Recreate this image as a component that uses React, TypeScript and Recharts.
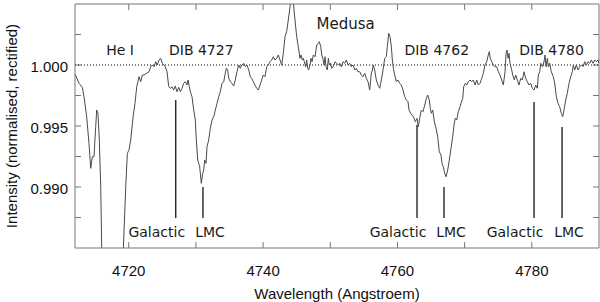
import { LineChart, Line, XAxis, YAxis, ReferenceLine, ReferenceDot } from "recharts";

// spectrum (Angstroem, rectified intensity)
const wavelength = [
  4712.0, 4712.6, 4713.09, 4713.34, 4713.74, 4714.08, 4714.34, 4714.58, 4714.83, 4715.08,
  4715.23, 4715.42, 4715.62, 4715.83, 4715.98, 4716.6, 4717.6, 4718.6, 4719.19, 4719.55,
  4719.79, 4720.04, 4720.29, 4720.68, 4720.93, 4721.19, 4721.53, 4721.78, 4722.02, 4722.27,
  4722.67, 4723.02, 4723.27, 4723.51, 4723.76, 4724.01, 4724.25, 4724.5, 4724.76, 4725.0,
  4725.25, 4725.44, 4725.7, 4725.95, 4726.19, 4726.44, 4726.69, 4726.93, 4727.18, 4727.44,
  4727.68, 4727.93, 4728.18, 4728.42, 4728.67, 4728.82, 4729.02, 4729.17, 4729.42, 4729.67,
  4729.91, 4730.06, 4730.27, 4730.41, 4730.56, 4730.8, 4731.01, 4731.16, 4731.31, 4731.5,
  4731.65, 4731.9, 4732.14, 4732.4, 4732.65, 4732.89, 4733.14, 4733.39, 4733.63, 4733.88,
  4734.14, 4734.37, 4734.52, 4734.73, 4734.88, 4735.12, 4735.37, 4735.62, 4735.86, 4736.11,
  4736.37, 4736.61, 4736.86, 4737.11, 4737.35, 4737.6, 4737.86, 4738.1, 4738.3, 4738.54,
  4738.79, 4739.05, 4739.29, 4739.54, 4739.79, 4740.03, 4740.28, 4740.54, 4740.78, 4741.03,
  4741.28, 4741.52, 4741.77, 4742.03, 4742.26, 4742.52, 4742.77, 4743.01, 4743.26, 4743.51,
  4743.75, 4744.01, 4744.23, 4744.42, 4744.6, 4744.75, 4745.0, 4745.24, 4745.49, 4745.64,
  4745.84, 4745.99, 4746.13, 4746.34, 4746.49, 4746.64, 4746.79, 4746.98, 4747.13, 4747.28,
  4747.48, 4747.73, 4747.98, 4748.22, 4748.37, 4748.58, 4748.73, 4748.88, 4749.07, 4749.22,
  4749.37, 4749.56, 4749.71, 4749.86, 4750.06, 4750.21, 4750.45, 4750.7, 4750.96, 4751.2,
  4751.4, 4751.64, 4751.89, 4752.15, 4752.39, 4752.64, 4752.89, 4753.13, 4753.38, 4753.64,
  4753.87, 4754.13, 4754.38, 4754.62, 4754.87, 4755.13, 4755.36, 4755.62, 4755.87, 4756.11,
  4756.26, 4756.41, 4756.61, 4756.85, 4757.11, 4757.36, 4757.6, 4757.85, 4758.1, 4758.34,
  4758.49, 4758.7, 4758.89, 4759.09, 4759.24, 4759.39, 4759.59, 4759.83, 4760.08, 4760.34,
  4760.57, 4760.83, 4761.08, 4761.32, 4761.57, 4761.72, 4761.97, 4762.17, 4762.36, 4762.66,
  4762.91, 4763.1, 4763.31, 4763.55, 4763.8, 4764.06, 4764.3, 4764.5, 4764.74, 4764.89,
  4765.04, 4765.25, 4765.49, 4765.74, 4765.99, 4766.23, 4766.48, 4766.63, 4766.82, 4767.03,
  4767.23, 4767.48, 4767.72, 4767.97, 4768.22, 4768.46, 4768.61, 4768.82, 4769.06, 4769.31,
  4769.46, 4769.72, 4769.86, 4770.1, 4770.31, 4770.55, 4770.8, 4771.05, 4771.29, 4771.55,
  4771.8, 4772.04, 4772.29, 4772.54, 4772.78, 4773.03, 4773.29, 4773.52, 4773.67, 4773.82,
  4774.03, 4774.27, 4774.52, 4774.77, 4775.01, 4775.26, 4775.52, 4775.76, 4776.01, 4776.16,
  4776.31, 4776.46, 4776.61, 4776.75, 4776.95, 4777.16, 4777.4, 4777.6, 4777.84, 4778.09,
  4778.35, 4778.59, 4778.84, 4779.09, 4779.33, 4779.58, 4779.84, 4780.07, 4780.33, 4780.58,
  4780.82, 4780.97, 4781.18, 4781.33, 4781.57, 4781.82, 4781.96, 4782.11, 4782.31, 4782.46,
  4782.66, 4782.9, 4783.2, 4783.41, 4783.65, 4783.9, 4784.15, 4784.39, 4784.6, 4784.79,
  4785.05, 4785.28, 4785.54, 4785.79, 4786.03, 4786.18, 4786.39, 4786.62, 4786.88, 4787.13,
  4787.37, 4787.62, 4787.87, 4788.12, 4788.37, 4788.62, 4788.86, 4789.11, 4789.36, 4789.6,
  4789.86, 4790.0,
];

const flux = [
  0.99926, 0.9985, 0.99817, 0.9974, 0.99576, 0.99358, 0.99153, 0.99248, 0.99248, 0.99494,
  0.99631, 0.99604, 0.99385, 0.99002, 0.98484, 0.978, 0.9765, 0.978, 0.98484, 0.99002,
  0.99276, 0.99303, 0.99385, 0.9959, 0.99686, 0.99822, 0.99904, 0.99863, 0.99918, 0.99918,
  0.99932, 0.99945, 0.99986, 1.0, 0.99986, 1.00027, 1.0, 1.00041, 1.00055, 1.00014,
  1.0, 0.99986, 0.99945, 0.99822, 0.99809, 0.99822, 0.99795, 0.99828, 0.99781, 0.99817,
  0.99781, 0.99809, 0.9985, 0.99863, 0.99836, 0.99877, 0.99822, 0.99781, 0.9974, 0.99631,
  0.99549, 0.99385, 0.99221, 0.99194, 0.99166, 0.9903, 0.99112, 0.99139, 0.99221, 0.99194,
  0.9933, 0.99385, 0.99481, 0.99549, 0.99576, 0.99631, 0.99686, 0.9974, 0.99781, 0.9985,
  0.99863, 0.99932, 0.99973, 0.99959, 0.99891, 0.99863, 0.9985, 0.99828, 0.99877, 0.99945,
  1.0, 0.99973, 1.0, 1.00014, 0.99986, 1.0, 0.99959, 0.99904, 0.99891, 0.99863,
  0.99836, 0.99809, 0.99795, 0.99836, 0.99877, 0.99918, 0.99904, 0.99986, 1.0, 1.00027,
  1.00041, 1.00068, 1.00041, 1.00055, 1.00082, 1.00041, 1.0, 1.00096, 1.00232, 1.00273,
  1.00369, 1.00478, 1.0062, 1.006, 1.00451, 1.00369, 1.00232, 1.0015, 1.00055, 1.00082,
  1.00041, 1.00055, 1.00027, 0.99986, 1.00041, 0.99973, 0.99959, 1.0, 1.00055, 1.00027,
  1.00082, 1.00068, 1.00164, 1.00178, 1.00191, 1.0015, 1.00082, 1.00055, 1.0, 1.00068,
  0.99986, 0.99959, 1.00055, 1.0, 1.00014, 0.99973, 0.99986, 1.00027, 1.00014, 1.0,
  1.00014, 0.99986, 1.00027, 1.00014, 1.00041, 1.0, 1.00014, 0.99986, 1.0, 0.99959,
  0.99973, 0.99945, 0.99945, 0.99918, 0.99904, 0.99932, 0.99891, 0.99863, 0.99795, 0.99932,
  0.99959, 1.0, 0.99959, 0.99877, 0.99836, 0.99809, 0.99877, 0.99959, 1.00055, 1.00068,
  1.0015, 1.0026, 1.00232, 1.0015, 1.00041, 0.99973, 0.99918, 0.99863, 0.99877, 0.9985,
  0.99836, 0.99795, 0.9974, 0.99713, 0.99699, 0.99631, 0.99604, 0.9959, 0.99576, 0.99535,
  0.99563, 0.99494, 0.99563, 0.99631, 0.99617, 0.99672, 0.99727, 0.99754, 0.99713, 0.99645,
  0.99604, 0.99631, 0.99535, 0.99481, 0.99412, 0.99289, 0.99262, 0.99194, 0.99166, 0.99112,
  0.99084, 0.99139, 0.99221, 0.99317, 0.99412, 0.99522, 0.99563, 0.99549, 0.99617, 0.99658,
  0.99686, 0.99727, 0.99822, 0.9985, 0.99836, 0.99863, 0.99877, 0.99863, 0.99877, 0.99836,
  0.99877, 0.99836, 0.9985, 0.99891, 0.99932, 1.0, 1.00027, 1.00082, 1.00109, 1.00055,
  1.00027, 1.0, 0.99986, 0.99986, 0.99945, 0.99918, 0.99877, 0.99836, 0.99945, 1.00096,
  1.00123, 1.00055, 1.00096, 1.00014, 0.99973, 0.99918, 0.99877, 0.99918, 0.99877, 0.99836,
  0.99891, 0.99877, 0.99945, 0.99891, 0.99863, 0.99836, 0.9985, 0.99809, 0.99795, 0.99836,
  0.99809, 0.99918, 0.99945, 1.00014, 0.99986, 1.00027, 1.00082, 0.99986, 1.00055, 0.99986,
  1.00014, 0.99945, 0.99904, 0.9985, 0.9974, 0.99686, 0.99658, 0.99604, 0.99576, 0.99631,
  0.99713, 0.99768, 0.9985, 0.99904, 0.99945, 1.0, 0.99959, 1.0, 0.99959, 0.99986,
  1.0, 0.99986, 1.00027, 1.0, 1.00027, 1.00014, 1.00041, 1.00014, 1.00041, 1.00027,
  1.00041, 1.00014,
];

const xTicks = [4720, 4730, 4740, 4750, 4760, 4770, 4780];
const yTicks = [0.9875, 0.99, 0.9925, 0.995, 0.9975, 1.0, 1.0025];
const xDomain = [4712, 4790];
const yDomain = [0.985, 1.005];

// feature labels along the top
const featureNames = ["He I", "DIB 4727", "DIB 4762", "DIB 4780"];
const featureWl = [4718.7, 4730.8, 4765.85, 4782.95];
const featureLevel = 1.00123;
const objectName = "Medusa";
const objectWl = 4752.3;
const objectLevel = 1.00336;

// velocity components of each DIB
const componentNames = ["Galactic", "LMC", "Galactic", "LMC", "Galactic", "LMC"];
const componentWl = [4727.0, 4731.05, 4762.91, 4766.93, 4780.33, 4784.5];
const componentTop = [0.99713, 0.98999, 0.99509, 0.98999, 0.99697, 0.99492];
const componentBase = 0.98746;

const data = wavelength.map((wl, i) => ({ wl, flux: flux[i] }));

const W = 600;
const H = 302;
const MARGIN = { top: 4, right: 1, bottom: 0, left: 0 };
const Y_AXIS_W = 75;
const X_AXIS_H = 54;
const TICK = 6; // px, inward

// tick length converted to data units through the plot size
const plotW = W - MARGIN.left - MARGIN.right - Y_AXIS_W;
const plotH = H - MARGIN.top - MARGIN.bottom - X_AXIS_H;
const tickDx = ((xDomain[1] - xDomain[0]) * TICK) / plotW;
const tickDy = ((yDomain[1] - yDomain[0]) * TICK) / plotH;

const AXIS = "#777";
const FONT = "'Liberation Sans', Arial, sans-serif";
const ANNO = "'DejaVu Sans', sans-serif";

const isMajorY = (v: number) => Math.abs(v * 200 - Math.round(v * 200)) < 1e-6;

function BottomTick({ x, y, payload }: any) {
  const v = payload.value;
  if (v % 20 !== 0) return <g />;
  return (
    <text x={x} y={y + 22} textAnchor="middle" dominantBaseline="central"
      fontFamily={FONT} fontSize={15} fill="#111">
      {v}
    </text>
  );
}

function LeftTick({ x, y, payload }: any) {
  const v = payload.value;
  if (!isMajorY(v)) return <g />;
  return (
    <text x={x - 7} y={y + 1} textAnchor="end" dominantBaseline="central"
      fontFamily={FONT} fontSize={15} fill="#111">
      {v.toFixed(3)}
    </text>
  );
}

const xTitle = (props: any) => {
  const vb = props.viewBox;
  return (
    <text x={vb.x + vb.width / 2} y={vb.y + 45} textAnchor="middle" dominantBaseline="central"
      fontFamily={FONT} fontSize={15} fill="#111">
      Wavelength (Angstroem)
    </text>
  );
};

const yTitle = (props: any) => {
  const vb = props.viewBox;
  const cx = vb.x + 11;
  const cy = vb.y + vb.height / 2;
  return (
    <text x={cx} y={cy} transform={`rotate(-90, ${cx}, ${cy})`} textAnchor="middle"
      dominantBaseline="central" fontFamily={FONT} fontSize={15} fill="#111">
      Intensity (normalised, rectified)
    </text>
  );
};

const annoLabel = (text: string, size = 14) => (props: any) => {
  const vb = props.viewBox;
  return (
    <text x={vb.x + vb.width / 2} y={vb.y + vb.height / 2} textAnchor="middle"
      dominantBaseline="central" fontFamily={ANNO} fontSize={size} fill="#1a1a1a">
      {text}
    </text>
  );
};

const componentLabel = (text: string) => (props: any) => {
  const vb = props.viewBox;
  const dx = text === "LMC" ? 7 : -19;
  return (
    <text x={vb.x + dx} y={vb.y + vb.height + 14} textAnchor="middle"
      dominantBaseline="central" fontFamily={ANNO} fontSize={14} fill="#1a1a1a">
      {text}
    </text>
  );
};

// frame edges and inward ticks as segments
const [x0, x1] = xDomain;
const [y0, y1] = yDomain;
const frameSegments = [
  [{ x: x0, y: y1 }, { x: x1, y: y1 }],
  [{ x: x1, y: y0 }, { x: x1, y: y1 }],
  ...xTicks.flatMap((t) => [
    [{ x: t, y: y0 }, { x: t, y: y0 + tickDy }],
    [{ x: t, y: y1 }, { x: t, y: y1 - tickDy }],
  ]),
  ...yTicks.flatMap((t) => [
    [{ x: x0, y: t }, { x: x0 + tickDx, y: t }],
    [{ x: x1, y: t }, { x: x1 - tickDx, y: t }],
  ]),
];

export default function App() {
  return (
    <div style={{ position: "absolute", left: 0, top: 0, background: "#fff" }}>
      <LineChart width={W} height={H} data={data} margin={MARGIN}>
        <XAxis dataKey="wl" type="number" domain={xDomain} allowDataOverflow
          ticks={xTicks} interval={0} height={X_AXIS_H} tickSize={0} tickMargin={0}
          tickLine={false} axisLine={{ stroke: AXIS }} tick={BottomTick} label={xTitle} />
        <YAxis type="number" domain={yDomain} allowDataOverflow
          ticks={yTicks} interval={0} width={Y_AXIS_W} tickSize={0} tickMargin={0}
          tickLine={false} axisLine={{ stroke: AXIS }} tick={LeftTick} label={yTitle} />

        {frameSegments.map((seg, i) => (
          <ReferenceLine key={"fr" + i} segment={seg} stroke={AXIS} strokeWidth={1}
            ifOverflow="visible" />
        ))}

        <ReferenceLine y={1.0} stroke="#000" strokeDasharray="1 2" />

        {componentNames.map((name, i) => (
          <ReferenceLine key={"c" + i}
            segment={[{ x: componentWl[i], y: componentTop[i] }, { x: componentWl[i], y: componentBase }]}
            stroke="#000" strokeWidth={1.2} label={componentLabel(name)} />
        ))}

        {featureNames.map((name, i) => (
          <ReferenceDot key={"f" + i} x={featureWl[i]} y={featureLevel}
            r={0} fill="none" stroke="none" label={annoLabel(name)} />
        ))}
        <ReferenceDot x={objectWl} y={objectLevel}
          r={0} fill="none" stroke="none" label={annoLabel(objectName, 15)} />

        <Line type="linear" dataKey="flux" stroke="#4a4a4a"
          strokeWidth={1} dot={false} activeDot={false} isAnimationActive={false} />
      </LineChart>
    </div>
  );
}
